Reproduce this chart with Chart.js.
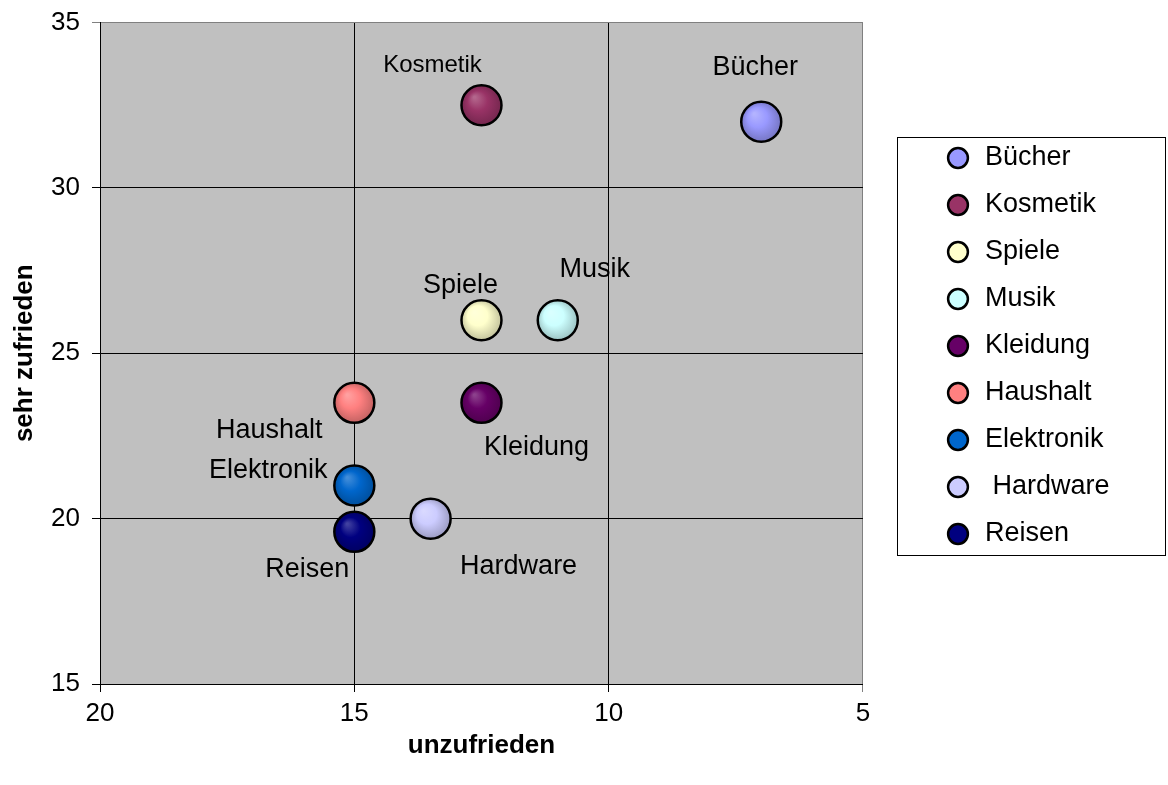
<!DOCTYPE html>
<html>
<head>
<meta charset="utf-8">
<script src="https://cdn.jsdelivr.net/npm/chart.js"></script>
<style>
  body { margin: 0; background: #fff; }
  #wrap { width: 1168px; height: 785px; }
</style>
</head>
<body>
<div id="wrap"><canvas id="chart" width="1168" height="785"></canvas></div>
<script>
// series names as in the legend (Hardware carries a leading blank there)
const categories = ['Bücher', 'Kosmetik', 'Spiele', 'Musik', 'Kleidung', 'Haushalt', 'Elektronik', ' Hardware', 'Reisen'];
const unzufrieden = [7, 12.5, 12.5, 11, 12.5, 15, 15, 13.5, 15];
const sehrZufrieden = [32, 32.5, 26, 26, 23.5, 23.5, 21, 20, 19.6];

const colors = ['#9999FF', '#993366', '#FFFFCC', '#CCFFFF', '#660066', '#FF8080', '#0066CC', '#CCCCFF', '#000080'];
// where each bubble's name sits, relative to the bubble centre (px)
const labelOffsets = [[-6, -54], [-49, -40], [-21, -35], [37, -51], [55, 45], [-85, 28], [-86, -15], [88, 48], [-47, 38]];
const labelSizes = [27, 24, 27, 27, 27, 27, 27, 27, 27];

const FONT = "'Liberation Sans', Arial, sans-serif";
const R = 20;

function mix(hex, target, t) {
    const a = parseInt(hex.slice(1), 16), b = parseInt(target.slice(1), 16);
    const out = [16, 8, 0].map(s => {
        const p = (a >> s) & 255, q = (b >> s) & 255;
        return Math.round(p + (q - p) * t);
    });
    return 'rgb(' + out.join(',') + ')';
}

function shade(c, base) {
    if (c.type !== 'data' || !c.raw) return base;
    const x = c.chart.scales.x.getPixelForValue(c.raw.x);
    const y = c.chart.scales.y.getPixelForValue(c.raw.y);
    if (!Number.isFinite(x) || !Number.isFinite(y)) return base;
    const g = c.chart.ctx.createRadialGradient(x - 7, y - 8, 1, x, y, R + 1);
    g.addColorStop(0, mix(base, '#FFFFFF', 0.25));
    g.addColorStop(0.45, base);
    g.addColorStop(1, mix(base, '#000000', 0.25));
    return g;
}

const datasets = categories.map((name, i) => ({
    label: name.trim(),
    data: [{ x: unzufrieden[i], y: sehrZufrieden[i] }],
    backgroundColor: c => shade(c, colors[i]),
    borderColor: '#000',
    borderWidth: 2.5,
    radius: R,
    order: categories.length - i
}));

const plotBg = {
    id: 'plotBg',
    beforeDraw(chart) {
        const { ctx, chartArea: a } = chart;
        ctx.save();
        ctx.fillStyle = '#C0C0C0';
        ctx.fillRect(a.left, a.top, a.right - a.left, a.bottom - a.top);
        ctx.restore();
    }
};

const bubbleNames = {
    id: 'bubbleNames',
    afterDatasetsDraw(chart) {
        const ctx = chart.ctx;
        ctx.save();
        ctx.fillStyle = '#000';
        ctx.textAlign = 'center';
        ctx.textBaseline = 'middle';
        categories.forEach((name, i) => {
            const el = chart.getDatasetMeta(i).data[0];
            ctx.font = labelSizes[i] + 'px ' + FONT;
            ctx.fillText(name.trim(), el.x + labelOffsets[i][0], el.y + labelOffsets[i][1]);
        });
        ctx.restore();
    }
};

// put the legend where the original has it and frame it
const legendBox = {
    id: 'legendBox',
    afterLayout(chart) {
        const lg = chart.legend;
        lg.left = 924.5; lg.right = lg.left + lg.width;
        lg.top = 124.5; lg.bottom = lg.top + lg.height;
    },
    afterDraw(chart) {
        const ctx = chart.ctx;
        ctx.save();
        ctx.strokeStyle = '#000';
        ctx.lineWidth = 1;
        ctx.strokeRect(897.5, 137.5, 268, 418);
        ctx.restore();
    }
};

new Chart(document.getElementById('chart'), {
    type: 'bubble',
    data: { datasets },
    plugins: [plotBg, bubbleNames, legendBox],
    options: {
        responsive: false,
        animation: false,
        events: [],
        layout: { padding: { left: 0, top: 17, right: 110, bottom: 0 } },
        plugins: {
            tooltip: { enabled: false },
            legend: {
                position: 'right',
                align: 'start',
                labels: {
                    usePointStyle: true,
                    pointStyle: 'circle',
                    boxHeight: 14,
                    padding: 20,
                    textAlign: 'left',
                    color: '#000',
                    font: { family: FONT, size: 27 },
                    generateLabels: () => categories.map((name, i) => ({
                        text: name,
                        fillStyle: colors[i],
                        strokeStyle: '#000',
                        lineWidth: 2.5,
                        pointStyle: 'circle',
                        hidden: false,
                        datasetIndex: i,
                        fontColor: '#000'
                    }))
                }
            }
        },
        scales: {
            x: {
                type: 'linear',
                reverse: true,
                min: 5,
                max: 20,
                afterFit: s => { s.height = 101; },
                ticks: { stepSize: 5, color: '#000', padding: 6, font: { family: FONT, size: 26 } },
                grid: {
                    color: c => (c.tick && c.tick.value === 5 ? '#808080' : '#000'),
                    lineWidth: 1,
                    tickLength: 8
                },
                border: { color: '#000', width: 1 },
                title: {
                    display: true,
                    text: 'unzufrieden',
                    color: '#000',
                    font: { family: FONT, size: 26, weight: 'bold' },
                    padding: { top: 0, bottom: 24 }
                }
            },
            y: {
                type: 'linear',
                min: 15,
                max: 35,
                afterFit: s => { s.width = 100; s.paddingTop = 0; s.paddingBottom = 0; },
                ticks: { stepSize: 5, color: '#000', padding: 12, font: { family: FONT, size: 26 } },
                grid: {
                    color: c => (c.tick && c.tick.value === 35 ? '#808080' : '#000'),
                    lineWidth: 1,
                    tickLength: 8
                },
                border: { color: '#000', width: 1 },
                title: {
                    display: true,
                    text: 'sehr zufrieden',
                    color: '#000',
                    font: { family: FONT, size: 26, weight: 'bold' },
                    padding: { top: 9, bottom: 0 }
                }
            }
        }
    }
});
</script>
</body>
</html>
